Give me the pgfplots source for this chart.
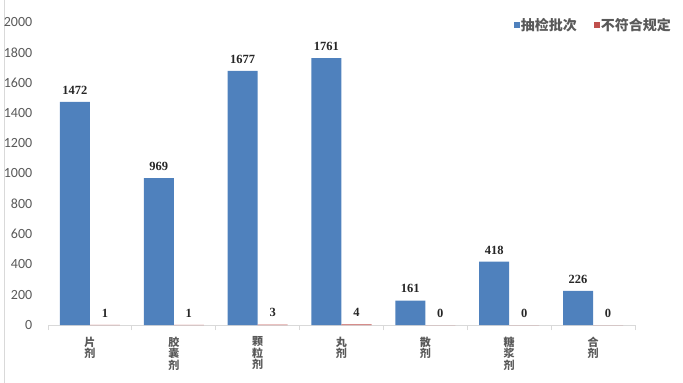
\documentclass[border=0pt]{standalone}
\usepackage{pgfplots}
\pgfplotsset{compat=1.18}
\usepackage{fontspec}
\setmainfont{Carlito}
\newfontfamily\cjk{Noto Sans CJK SC}
\newfontfamily\tnr{Liberation Serif}
\definecolor{barblue}{HTML}{4F81BD}
\definecolor{barred}{HTML}{C0504D}
\definecolor{txtgray}{HTML}{595959}
\definecolor{axgray}{HTML}{D9D9D9}
\begin{document}
\begin{tikzpicture}[x=1pt,y=1pt]
\useasboundingbox (0,0) rectangle (683,383);
\draw[axgray] (4,0) -- (4,383);
\begin{axis}[
  at={(48pt,58pt)}, anchor=south west,
  scale only axis, width=587pt, height=303pt,
  xmin=-0.5, xmax=6.5, ymin=0, ymax=2000,
  ybar=0pt, bar width=30pt,
  axis x line*=bottom, axis y line*=left,
  y axis line style={draw=none},
  x axis line style={draw=axgray, line width=0.8pt},
  ytick={0,200,...,2000},
  ytick style={draw=none},
  xtick={0,...,6},
  xticklabels={{片\\剂},{胶\\囊\\剂},{颗\\粒\\剂},{丸\\剂},{散\\剂},{糖\\浆\\剂},{合\\剂}},
  major x tick style={draw=none},
  minor xtick={-0.5,0.5,...,6.5},
  minor x tick style={draw=axgray, line width=0.8pt},
  minor tick length=5pt,
  tick align=outside,
  xticklabel style={align=center, font=\cjk\bfseries\fontsize{11}{11.5}\selectfont, text=txtgray, yshift=-4pt},
  yticklabel style={font=\fontsize{14}{16}\selectfont, text=txtgray, xshift=-8pt},
  /pgf/number format/assume math mode=true,
  /pgf/number format/1000 sep={},
  nodes near coords,
  every node near coord/.append style={font=\tnr\bfseries\fontsize{12.5}{14}\selectfont, text=black!85, anchor=south, yshift=4pt},
  legend columns=2,
  legend style={draw=none, fill=none, at={(1,1)}, anchor=east, xshift=40pt, yshift=-3pt,
    font=\cjk\bfseries\fontsize{14}{16}\selectfont, text=txtgray,
    nodes={inner sep=1pt},
    /tikz/column 2/.style={column sep=16pt}},
  legend image code/.code={\fill (0pt,-3pt) rectangle (6pt,3pt);},
]
\addplot[fill=barblue, draw=none] coordinates {(0,1472) (1,969) (2,1677) (3,1761) (4,161) (5,418) (6,226)};
\addplot[fill=barred, draw=none] coordinates {(0,1) (1,1) (2,3) (3,4) (4,0) (5,0) (6,0)};
\legend{抽检批次,不符合规定}
\end{axis}
\end{tikzpicture}
\end{document}
